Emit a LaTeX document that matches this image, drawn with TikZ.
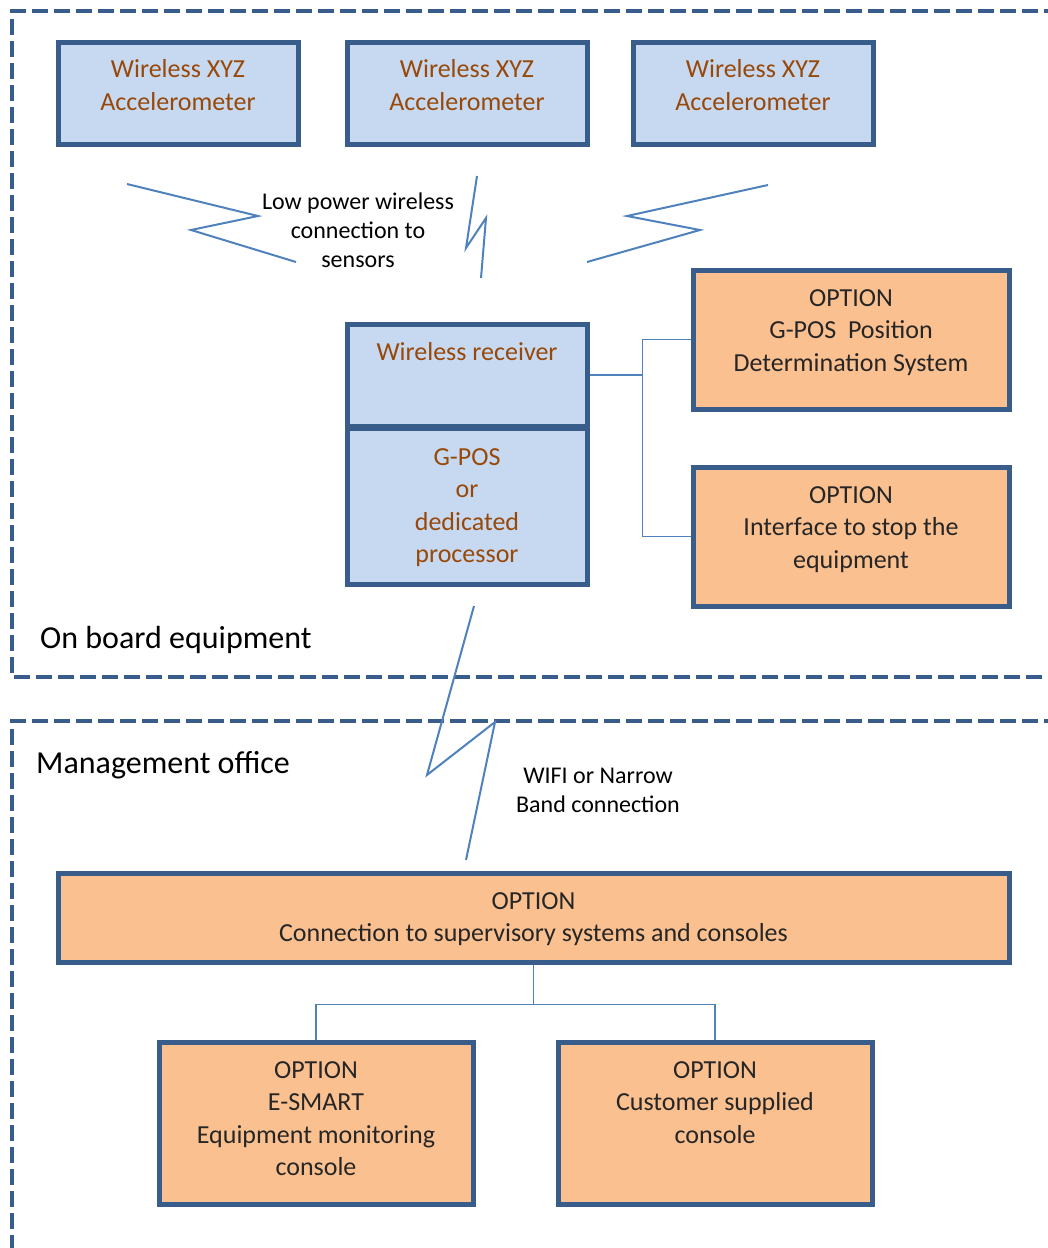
\documentclass[tikz,border=0pt]{standalone}
\usepackage{fontspec}
\setmainfont{Carlito}
\usetikzlibrary{positioning}

\begin{document}
\begin{tikzpicture}[x=1pt,y=-1pt]

  % 定义颜色
  \definecolor{boxblue}{RGB}{198,217,241}
  \definecolor{boxorange}{RGB}{250,192,144}
  \definecolor{edgeblue}{RGB}{56,93,138}
  \definecolor{wireblue}{RGB}{79,129,189}
  \definecolor{textbrown}{RGB}{152,72,8}
  \definecolor{textdark}{RGB}{38,38,38}

  \tikzset{
    bluebox/.style={draw=edgeblue, line width=5pt, fill=boxblue, inner sep=0pt},
    orangebox/.style={draw=edgeblue, line width=5pt, fill=boxorange, inner sep=0pt},
    boxtext/.style={align=center, inner sep=0pt, text=textdark, font=\fontsize{26}{32.3}\selectfont},
    smalltext/.style={align=center, inner sep=0pt, font=\fontsize{24}{29}\selectfont},
    areatext/.style={anchor=west, inner sep=0pt, font=\fontsize{32}{38}\selectfont},
    area/.style={draw=edgeblue, line width=4.5pt, dash pattern=on 16pt off 6pt},
    wire/.style={draw=wireblue, line width=2pt},
    conn/.style={draw=wireblue, line width=1.6pt}
  }

  \useasboundingbox (0,0) rectangle (1048,1248);

  % 绘制两个虚线区域
  \draw[area] (1060,11) -- (12,11) -- (12,677) -- (1060,677);
  \draw[area] (1060,721) -- (12,721) -- (12,1260);

  % 三个加速度计
  \foreach \x/\n in {178/1, 467/2, 753/3} {
    \node[bluebox, minimum width=240pt, minimum height=102pt] (acc\n) at (\x,93) {};
    \node[boxtext, text=textbrown, below=20pt of acc\n.north] (acclabel\n) {Wireless XYZ\\Accelerometer};
  }

  % 无线信号
  \draw[wire] (127,184) -- (258,216) -- (191,230) -- (296,262);
  \draw[wire] (477,176) -- (466,248) -- (486,218) -- (481,278);
  \draw[wire] (768,185) -- (627,216) -- (700,230) -- (587,262);
  \node[smalltext] (lowpower) at (358,230) {Low power wireless\\connection to\\sensors};

  % 接收器和处理器
  \node[bluebox, minimum width=240pt, minimum height=102pt] (recv) at (467,375) {};
  \node[boxtext, text=textbrown, below=21pt of recv.north] (recvlabel) {Wireless receiver};
  \node[bluebox, minimum width=240pt, minimum height=156pt] (gpos) at (467,506) {};
  \node[boxtext, text=textbrown, below=23pt of gpos.north] (gposlabel) {G-POS\\or\\dedicated\\processor};

  % 选项
  \node[orangebox, minimum width=316pt, minimum height=139pt] (opt1) at (851,339.5) {};
  \node[boxtext, below=22pt of opt1.north] (opt1label) {OPTION\\G-POS\ \ Position\\Determination System};
  \node[orangebox, minimum width=316pt, minimum height=139pt] (opt2) at (851,536.5) {};
  \node[boxtext, below=22pt of opt2.north] (opt2label) {OPTION\\Interface to stop the\\equipment};

  \draw[conn] (recv.east) -- ++(53,0) coordinate (rjct);
  \draw[conn] (opt1.west) -| (rjct) |- (opt2.west);

  \node[areatext] (onboard) at (40,640) {On board equipment};
  \node[areatext] (mgmt) at (36,765) {Management office};

  % 远程连接
  \draw[wire] (474,606) -- (427,775) -- (495,722) -- (466,860);
  \node[smalltext] (wifi) at (598,790) {WIFI or Narrow\\Band connection};

  % 管理办公室
  \node[orangebox, minimum width=951pt, minimum height=89pt] (sup) at (533.5,917.5) {};
  \node[boxtext, below=22pt of sup.north] (suplabel) {OPTION\\Connection to supervisory systems and consoles};

  \node[orangebox, minimum width=314pt, minimum height=162pt] (esm) at (316,1123) {};
  \node[boxtext, below=22pt of esm.north] (esmlabel) {OPTION\\E-SMART\\Equipment monitoring\\console};
  \node[orangebox, minimum width=314pt, minimum height=162pt] (cust) at (715,1123) {};
  \node[boxtext, below=22pt of cust.north] (custlabel) {OPTION\\Customer supplied\\console};

  \draw[conn] (sup.south) -- ++(0,40) coordinate (sjct);
  \draw[conn] (esm.north) |- (sjct) -| (cust.north);

\end{tikzpicture}
\end{document}
